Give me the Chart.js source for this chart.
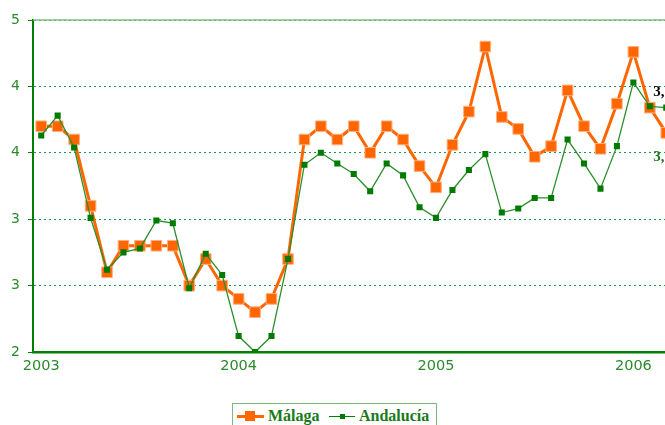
<!DOCTYPE html>
<html>
<head>
<meta charset="utf-8">
<script src="https://cdn.jsdelivr.net/npm/chart.js@4"></script>
<style>
  html, body { margin: 0; padding: 0; background: #fff; overflow: hidden; }
  #wrap { position: absolute; left: 0; top: 0; width: 683px; height: 392px; }
  #leyenda {
    position: absolute; left: 232px; top: 403px; width: 205px; height: 26px;
    border: 1px solid #7fb87f; box-sizing: border-box;
    font-family: "Liberation Serif", serif; font-weight: bold; font-size: 16px; color: #1a7a1a;
    white-space: nowrap;
  }
  .item { position: absolute; top: 3px; }
  .linea { position: absolute; }
  .marca { position: absolute; }
</style>
</head>
<body>
<div id="wrap"><canvas id="grafico"></canvas></div>
<div id="leyenda">
  <span class="linea" style="left:4px;top:11px;width:27px;height:3px;background:#FF6600"></span>
  <span class="marca" style="left:12px;top:7px;width:10px;height:10px;background:#FF6600"></span>
  <span class="item" style="left:35px">Málaga</span>
  <span class="linea" style="left:96px;top:12px;width:26px;height:1px;background:#008000"></span>
  <span class="marca" style="left:107px;top:10px;width:5px;height:5px;background:#007a00"></span>
  <span class="item" style="left:126px">Andalucía</span>
</div>
<script>
// meses (ene-2003 a mar-2006)
const meses = [
  'ene-03','feb-03','mar-03','abr-03','may-03','jun-03','jul-03','ago-03','sep-03','oct-03','nov-03','dic-03',
  'ene-04','feb-04','mar-04','abr-04','may-04','jun-04','jul-04','ago-04','sep-04','oct-04','nov-04','dic-04',
  'ene-05','feb-05','mar-05','abr-05','may-05','jun-05','jul-05','ago-05','sep-05','oct-05','nov-05','dic-05',
  'ene-06','feb-06','mar-06'
];
const anios = ['2003', '2004', '2005', '2006'];
const ticksY = ['2', '3', '3', '4', '4', '5'];

const malaga = [3.70,3.70,3.60,3.10,2.60,2.80,2.80,2.80,2.80,2.50,2.70,2.50,
                2.40,2.30,2.40,2.70,3.60,3.70,3.60,3.70,3.50,3.70,3.60,3.40,
                3.24,3.56,3.81,4.30,3.77,3.68,3.47,3.55,3.97,3.70,3.53,3.87,
                4.26,3.84,3.65];
const andalucia = [3.63,3.78,3.54,3.01,2.62,2.75,2.78,2.99,2.97,2.48,2.74,2.58,
                   2.12,2.00,2.12,2.70,3.41,3.50,3.42,3.34,3.21,3.42,3.33,3.09,
                   3.01,3.22,3.37,3.49,3.05,3.08,3.16,3.16,3.60,3.42,3.23,3.55,
                   4.03,3.85,3.84];

const verde = '#008000';
const textoVerde = '#2b8a2b';

// etiquetas del último dato de cada serie
const etiquetasFinal = {
  id: 'etiquetasFinal',
  afterDatasetsDraw(chart) {
    const ctx = chart.ctx;
    ctx.save();
    ctx.font = 'bold 15px "Liberation Serif", serif';
    ctx.textAlign = 'center';
    ctx.textBaseline = 'middle';
    const metaA = chart.getDatasetMeta(1);
    const pa = metaA.data[metaA.data.length - 1];
    ctx.fillStyle = '#000';
    ctx.fillText(andalucia[andalucia.length - 1].toFixed(2).replace('.', ','), pa.x, pa.y - 16);
    const metaM = chart.getDatasetMeta(0);
    const pm = metaM.data[metaM.data.length - 1];
    ctx.fillStyle = '#1a7a1a';
    ctx.fillText(malaga[malaga.length - 1].toFixed(2).replace('.', ','), pm.x, pm.y + 24);
    ctx.restore();
  },
  beforeDatasetsDraw(chart) {
    const a = chart.chartArea, ctx = chart.ctx;
    ctx.save();
    ctx.strokeStyle = '#7fbf7f';
    ctx.lineWidth = 1.5;
    ctx.beginPath();
    ctx.moveTo(a.left, a.top);
    ctx.lineTo(a.right, a.top);
    ctx.stroke();
    ctx.restore();
  }
};

new Chart(document.getElementById('grafico'), {
  type: 'line',
  data: {
    labels: meses,
    datasets: [{
      label: 'Málaga',
      data: malaga,
      borderColor: '#FF6600',
      backgroundColor: '#FF6600',
      borderWidth: 3,
      pointStyle: 'rect',
      pointRadius: 7.5,
      pointBorderWidth: 1,
      pointBorderColor: '#ffb080',
      tension: 0,
      order: 1
    }, {
      label: 'Andalucía',
      data: andalucia,
      borderColor: '#2a8f2a',
      backgroundColor: '#007a00',
      borderWidth: 1.3,
      pointStyle: 'rect',
      pointRadius: 4.3,
      pointBorderWidth: 0,
      tension: 0,
      order: 0
    }]
  },
  options: {
    responsive: true,
    maintainAspectRatio: false,
    animation: false,
    layout: { padding: { top: 20, left: 0, right: 0, bottom: 0 } },
    plugins: { legend: { display: false }, tooltip: { enabled: false } },
    scales: {
      x: {
        offset: true,
        afterFit(s) { s.height = 40; },
        grid: { display: false, drawTicks: false },
        border: { display: true, color: verde, width: 2.5 },
        ticks: {
          autoSkip: false,
          maxRotation: 0,
          padding: 6,
          color: textoVerde,
          font: { family: 'DejaVu Sans', size: 14.5 },
          callback(v, i) {
            return meses[i].startsWith('ene') ? anios[Math.floor(i / 12)] : '';
          }
        }
      },
      y: {
        min: 2,
        max: 4.5,
        afterFit(s) { s.width = 33; },
        afterBuildTicks(s) { s.ticks = ticksY.map((t, i) => ({ value: 2 + i * 0.5 })); },
        grid: {
          color: '#1e9450',
          lineWidth: 1,
          tickLength: 5,
          tickColor: verde,
          tickWidth: 1
        },
        border: { display: true, color: verde, width: 2, dash: [2, 3] },
        ticks: {
          padding: 8,
          color: textoVerde,
          font: { family: 'DejaVu Sans', size: 14 },
          callback(v, i) { return ticksY[i]; }
        }
      }
    }
  },
  plugins: [etiquetasFinal]
});
</script>
</body>
</html>
